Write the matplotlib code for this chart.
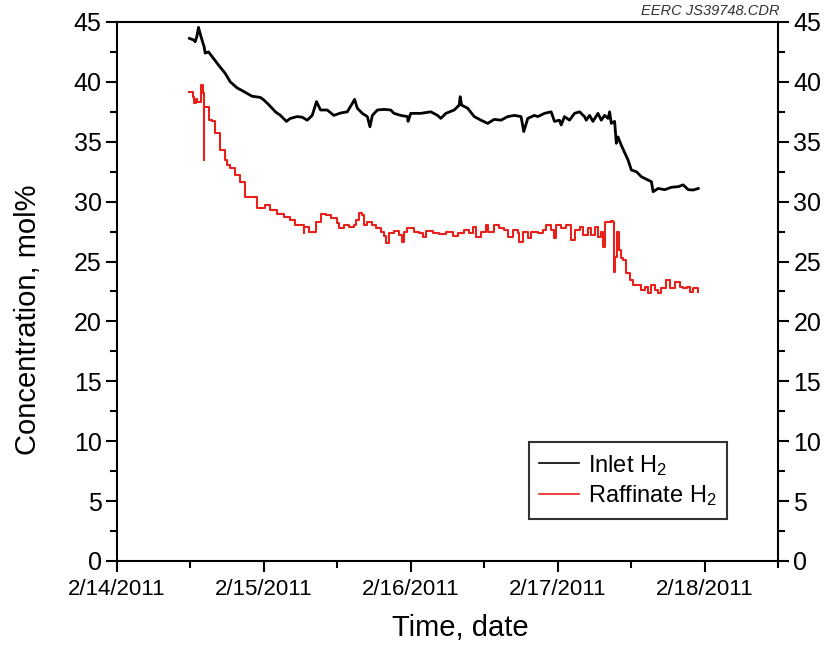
import matplotlib
matplotlib.use("Agg")
import matplotlib.pyplot as plt
import matplotlib.dates as mdates
import pandas as pd

plt.rcParams["font.family"] = ["Liberation Sans", "DejaVu Sans"]
plt.rcParams["mathtext.default"] = "regular"

START = pd.Timestamp("2011-02-14")

# elapsed time (days since 2/14/2011 00:00) and concentration, mol%
inlet_days = [
    0.4935, 0.5208, 0.5324, 0.5440, 0.5550, 0.5713, 0.5939, 0.6007, 0.6232,
    0.6573, 0.6915, 0.7372, 0.7713, 0.8171, 0.8621, 0.9195, 0.9761, 0.9986,
    1.0328, 1.0785, 1.1126, 1.1536, 1.1809, 1.2266, 1.2608, 1.2949, 1.3290,
    1.3584, 1.3857, 1.4314, 1.4765, 1.5222, 1.5679, 1.6021, 1.6177, 1.6362,
    1.6703, 1.7044, 1.7222, 1.7386, 1.7727, 1.8178, 1.8635, 1.8860, 1.9317,
    1.9775, 1.9816, 2.0000, 2.0683, 2.1365, 2.1823, 2.2048, 2.2389, 2.2956,
    2.3297, 2.3365, 2.3461, 2.3870, 2.4321, 2.4778, 2.5235, 2.5686, 2.6143,
    2.6601, 2.7051, 2.7509, 2.7693, 2.7966, 2.8416, 2.8649, 2.9099, 2.9556,
    2.9782, 3.0123, 3.0239, 3.0464, 3.0805, 3.1147, 3.1488, 3.1829, 3.1945,
    3.2171, 3.2403, 3.2744, 3.2969, 3.3195, 3.3427, 3.3536, 3.3652, 3.3877,
    3.3993, 3.4109, 3.4334, 3.4792, 3.5017, 3.5358, 3.5700, 3.6157, 3.6382,
    3.6498, 3.6840, 3.7290, 3.7747, 3.8205, 3.8546, 3.8887, 3.9228, 3.9570,
]
inlet_h2 = [
    43.63, 43.50, 43.35, 43.80, 44.55, 43.80, 42.90, 42.40, 42.50,
    41.95, 41.40, 40.70, 40.00, 39.50, 39.20, 38.80, 38.70, 38.50,
    38.10, 37.50, 37.20, 36.70, 36.95, 37.10, 37.05, 36.80, 37.20,
    38.35, 37.65, 37.65, 37.20, 37.40, 37.50, 38.20, 38.54, 37.80,
    37.37, 37.10, 36.25, 37.20, 37.65, 37.70, 37.65, 37.37, 37.20,
    37.10, 36.70, 37.37, 37.37, 37.50, 37.20, 36.95, 37.37, 37.65,
    38.06, 38.76, 38.06, 37.80, 37.10, 36.80, 36.53, 36.87, 36.80,
    37.10, 37.20, 37.10, 35.85, 36.95, 37.20, 37.10, 37.37, 37.50,
    36.70, 36.80, 36.40, 37.10, 36.80, 37.37, 37.50, 37.10, 36.80,
    37.20, 36.70, 37.37, 36.80, 37.20, 36.95, 37.50, 36.53, 36.70,
    34.87, 35.40, 34.70, 33.47, 32.64, 32.50, 32.08, 31.80, 31.66,
    30.83, 31.10, 31.00, 31.20, 31.25, 31.40, 31.00, 30.97, 31.10,
]

raffinate_days = [
    0.4935, 0.5167, 0.5256, 0.5392, 0.5481, 0.5713, 0.5850, 0.5891, 0.5939,
    0.6232, 0.6464, 0.6689, 0.7031, 0.7372, 0.7488, 0.7713, 0.8055, 0.8396,
    0.8737, 0.9536, 0.9645, 1.0102, 1.0444, 1.0901, 1.1352, 1.1809, 1.2150,
    1.2717, 1.2765, 1.3058, 1.3290, 1.3515, 1.3857, 1.4198, 1.4539, 1.4997,
    1.5106, 1.5447, 1.5788, 1.6130, 1.6246, 1.6471, 1.6703, 1.6812, 1.7044,
    1.7386, 1.7611, 1.7952, 1.8178, 1.8294, 1.8519, 1.8860, 1.9201, 1.9386,
    1.9543, 1.9775, 2.0225, 2.0567, 2.0799, 2.1024, 2.1481, 2.1932, 2.2389,
    2.2847, 2.3188, 2.3638, 2.3980, 2.4212, 2.4437, 2.4778, 2.5119, 2.5235,
    2.5686, 2.6027, 2.6369, 2.6601, 2.6942, 2.7283, 2.7392, 2.7625, 2.7966,
    2.8191, 2.8649, 2.8990, 2.9215, 2.9556, 2.9741, 2.9898, 3.0239, 3.0580,
    3.0922, 3.1147, 3.1488, 3.1720, 3.2062, 3.2287, 3.2512, 3.2744, 3.2969,
    3.3085, 3.3242, 3.3652, 3.3768, 3.3836, 3.3925, 3.4061, 3.4150, 3.4287,
    3.4451, 3.4676, 3.4901, 3.5133, 3.5474, 3.5700, 3.5925, 3.6157, 3.6382,
    3.6608, 3.6840, 3.7065, 3.7406, 3.7631, 3.7973, 3.8314, 3.8546, 3.8771,
    3.8997, 3.9228, 3.9570,
]
raffinate_h2 = [
    39.18, 38.76, 38.20, 38.60, 38.34, 39.73, 39.04, 33.47, 37.92,
    36.80, 36.70, 35.70, 34.30, 33.47, 33.05, 32.78, 32.20, 31.66,
    30.40, 29.44, 29.44, 29.70, 29.30, 29.00, 28.74, 28.46, 28.05,
    27.35, 27.90, 27.50, 27.50, 28.33, 29.00, 28.90, 28.60, 28.20,
    27.78, 28.05, 27.90, 28.05, 28.46, 29.07, 28.90, 28.05, 28.33,
    28.05, 27.78, 27.50, 27.10, 26.52, 27.35, 27.57, 27.20, 26.65,
    27.50, 27.78, 27.50, 27.35, 27.07, 27.57, 27.40, 27.30, 27.50,
    27.13, 27.40, 27.63, 27.35, 27.90, 27.07, 27.50, 28.05, 27.50,
    28.05, 27.78, 27.63, 27.07, 27.63, 27.35, 26.65, 27.50, 26.94,
    27.50, 27.35, 27.63, 28.05, 27.63, 26.94, 28.05, 27.78, 28.05,
    26.80, 27.63, 27.90, 27.20, 27.78, 27.20, 27.90, 27.07, 27.50,
    26.24, 28.33, 28.41, 28.33, 24.15, 25.40, 27.50, 25.96, 25.27,
    25.13, 24.02, 23.46, 23.04, 23.04, 22.62, 22.90, 22.35, 23.04,
    22.62, 22.35, 22.76, 23.46, 22.76, 23.32, 22.90, 22.76, 22.90,
    22.48, 22.76, 22.48,
]

inlet_t = START + pd.to_timedelta(inlet_days, unit="D")
raff_t = START + pd.to_timedelta(raffinate_days, unit="D")

fig = plt.figure(figsize=(8.29, 6.46), dpi=100)
ax = fig.add_axes([0.1411, 0.1316, 0.7974, 0.8344])

ax.plot(inlet_t, inlet_h2, color="black", lw=2.0, label="Inlet H$_2$")
ax.plot(raff_t, raffinate_h2, color="#e8201c", lw=1.5, drawstyle="steps-post",
        label="Raffinate H$_2$")

ax.set_xlim(START, START + pd.Timedelta(days=4.5))
ax.set_ylim(0, 45)
ax.xaxis.set_major_locator(mdates.DayLocator())
ax.xaxis.set_minor_locator(mdates.HourLocator(byhour=[12]))
ax.xaxis.set_major_formatter(mdates.DateFormatter("%-m/%-d/%Y"))
ax.set_yticks(range(0, 46, 5))
ax.set_yticks([2.5 + 5 * i for i in range(9)], minor=True)

for s in ax.spines.values():
    s.set_linewidth(1.5)
ax.tick_params(which="both", direction="out", width=1.5, top=False,
               right=True, labelright=True)
ax.tick_params(which="major", length=8)
ax.tick_params(which="minor", length=5)
ax.tick_params(axis="y", labelsize=18, pad=3)
ax.tick_params(axis="x", labelsize=16, pad=5)

ax.set_xlabel("Time, date", fontsize=21)
ax.set_ylabel("Concentration, mol%", fontsize=21)
ax.xaxis.set_label_coords(0.519, -0.098)
ax.yaxis.set_label_coords(-0.113, 0.447)

leg = ax.legend(loc="lower right", bbox_to_anchor=(0.923, 0.078), fontsize=17,
                frameon=True, fancybox=False, handlelength=1.7,
                handletextpad=0.35, borderpad=0.45, labelspacing=0.25,
                borderaxespad=0)
leg.get_frame().set_edgecolor("black")
leg.get_frame().set_linewidth(1.5)
for line in leg.get_lines():
    line.set_linewidth(1.2)

fig.text(0.94, 0.972, "EERC JS39748.CDR", fontsize=10.5, style="italic",
         ha="right", va="bottom", color="#333333")

fig.savefig("out.png", dpi=100)
